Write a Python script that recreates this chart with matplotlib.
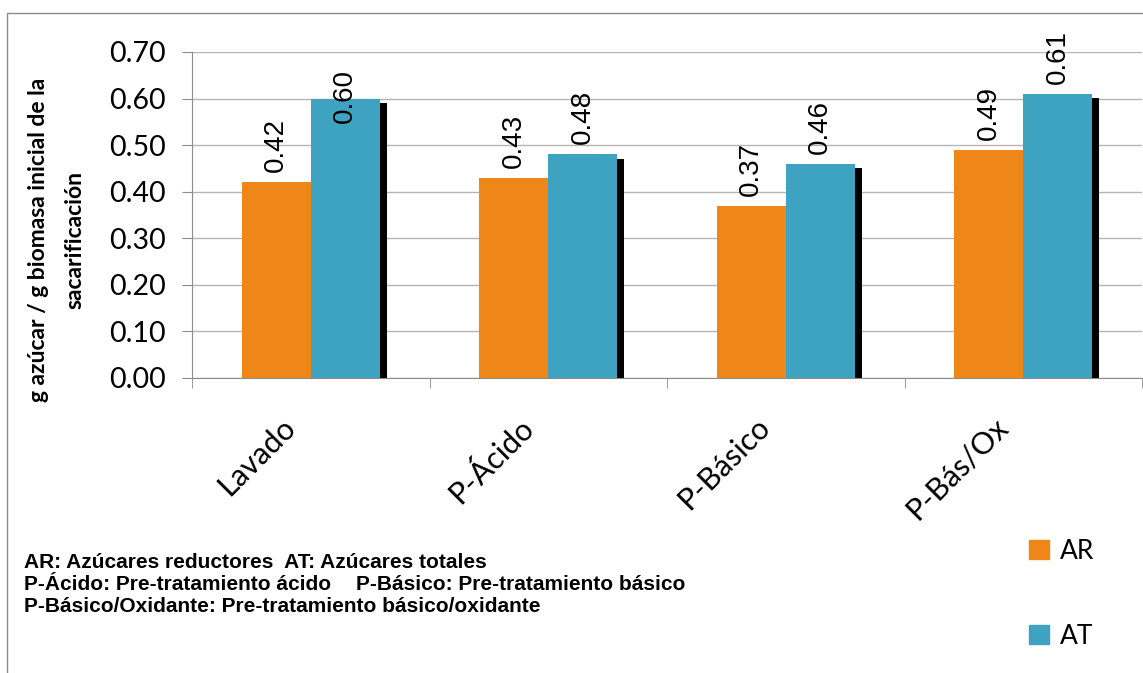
import matplotlib
matplotlib.use("Agg")
import matplotlib.pyplot as plt
import numpy as np
from matplotlib import patheffects
from matplotlib.patches import Rectangle, Patch
from matplotlib.transforms import ScaledTranslation

# datos de sacarificación
categorias = ["Lavado", "P-Ácido", "P-Básico", "P-Bás/Ox"]
ar = [0.42, 0.43, 0.37, 0.49]   # azúcares reductores
at = [0.60, 0.48, 0.46, 0.61]   # azúcares totales
yticks = [0.0, 0.1, 0.2, 0.3, 0.4, 0.5, 0.6, 0.7]

c_ar = "#EE8717"
c_at = "#3DA3C0"
gris = "#8c8c8c"

W, H = 1143, 673
fig = plt.figure(figsize=(W / 100, H / 100), dpi=100)
ax = fig.add_axes([192 / W, 1 - 378 / H, (1142 - 192) / W, (378 - 52) / H])

# marco exterior del gráfico
fig.patches.append(Rectangle((7 / W, -0.1), 1.2, 1 - 13 / H + 0.1,
                             transform=fig.transFigure, fill=False,
                             ec=gris, lw=1))

x = np.arange(len(categorias))
ancho = 0.29
sombra = [patheffects.SimplePatchShadow(offset=(5, -3), shadow_rgbFace="black", alpha=1.0),
          patheffects.Normal()]
b1 = ax.bar(x - ancho / 2, ar, ancho, color=c_ar, zorder=3)
b2 = ax.bar(x + ancho / 2, at, ancho, color=c_at, zorder=3)
for p in list(b1) + list(b2):
    p.set_path_effects(sombra)

ax.set_xlim(-0.5, len(categorias) - 0.5)
ax.set_ylim(0, 0.70)
ax.set_yticks(yticks)
ax.set_yticklabels([f"{v:.2f}" for v in yticks], family="Lato", fontsize=20.5)
ax.yaxis.grid(True, color="#b5b5b5", lw=1)
ax.set_axisbelow(True)

ax.set_xticks(x)
ax.set_xticklabels(categorias, family="Lato", fontsize=22, rotation=45,
                   ha="right", va="top", rotation_mode="anchor")
ax.set_xticks(np.arange(len(categorias) + 1) - 0.5, minor=True)
ax.tick_params(axis="x", which="major", length=0, pad=25)
ax.tick_params(axis="x", which="minor", length=7, color=gris, direction="out")
ax.tick_params(axis="y", length=7, color=gris, pad=12)
desplaza = ScaledTranslation(-30 / 100, 0, fig.dpi_scale_trans)
for lbl in ax.get_xticklabels():
    lbl.set_transform(lbl.get_transform() + desplaza)

for s in ["top", "right"]:
    ax.spines[s].set_visible(False)
for s in ["left", "bottom"]:
    ax.spines[s].set_color(gris)

# etiquetas de valor (la de 0.60 queda más baja por el límite superior)
ajuste = {(1, 0): -34}
for j, (barras, vals) in enumerate([(b1, ar), (b2, at)]):
    for i, (p, v) in enumerate(zip(barras, vals)):
        dy = 10 + ajuste.get((j, i), 0)
        ax.annotate(f"{v:.2f}", (p.get_x() + p.get_width() / 2, v),
                    xytext=(0, dy * 0.72), textcoords="offset points",
                    rotation=90, ha="center", va="bottom",
                    family="Liberation Sans", fontsize=20, zorder=5,
                    annotation_clip=False)

fig.text(57 / W, 1 - 240 / H, "g azúcar / g biomasa inicial de la\nsacarificación",
         rotation=90, ha="center", va="center", family="Lato",
         fontweight="bold", fontsize=16.5, linespacing=1.9)

fig.legend(handles=[Patch(color=c_ar, label="AR"), Patch(color=c_at, label="AT")],
           loc="upper left", bbox_to_anchor=(1005 / W, 1 - 515 / H),
           frameon=False, prop={"family": "Lato", "size": 19},
           handlelength=0.75, handleheight=0.75, handletextpad=0.45,
           labelspacing=2.27)

nota = dict(family="Liberation Sans", fontweight="bold", fontsize=15,
            va="center", ha="left")
fig.text(24 / W, 1 - 562 / H, "AR: Azúcares reductores  AT: Azúcares totales", **nota)
fig.text(24 / W, 1 - 585 / H, "P-Ácido: Pre-tratamiento ácido", **nota)
fig.text(356 / W, 1 - 585 / H, "P-Básico: Pre-tratamiento básico", **nota)
fig.text(24 / W, 1 - 607 / H, "P-Básico/Oxidante: Pre-tratamiento básico/oxidante", **nota)

fig.savefig("out.png", dpi=100)
